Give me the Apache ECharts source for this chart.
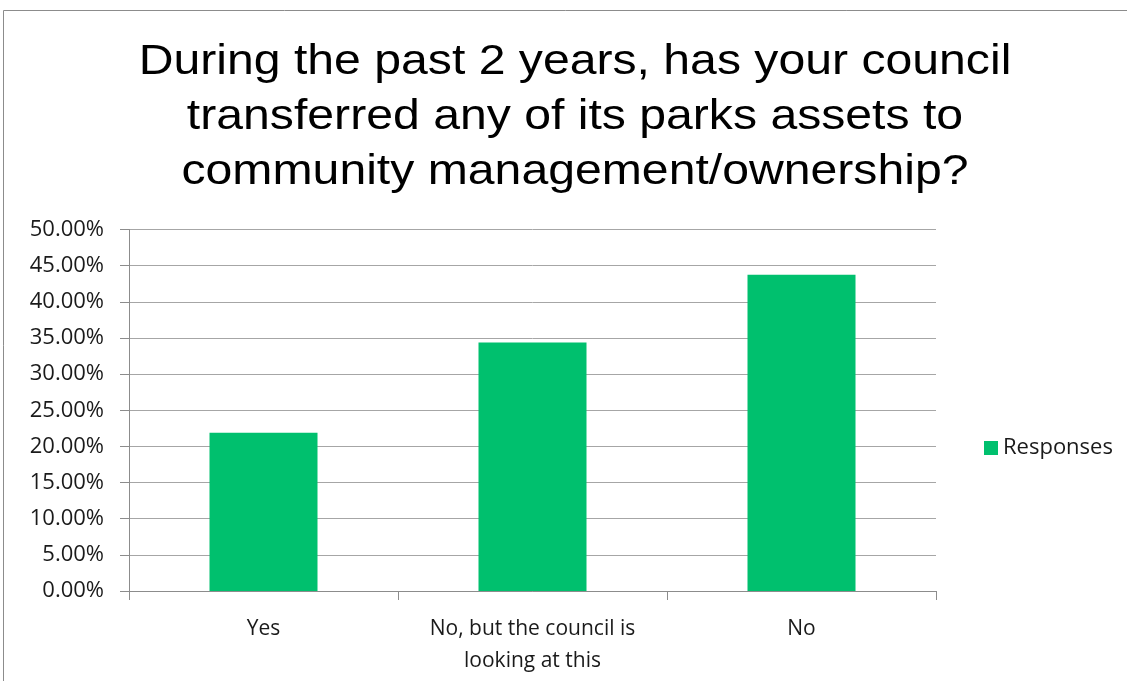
<!DOCTYPE html>
<html>
<head>
<meta charset="utf-8">
<script src="https://cdn.jsdelivr.net/npm/echarts@6/dist/echarts.min.js"></script>
<style>
  html, body { margin: 0; padding: 0; background: #fff; }
  #chart { width: 1127px; height: 681px; }
</style>
</head>
<body>
<div id="chart"></div>
<script>
// Survey answers and their share of responses (percent)
const categories = ['Yes', 'No, but the council is\nlooking at this', 'No'];
const responses = [21.875, 34.375, 43.75];
const seriesName = 'Responses';
const titleText = 'During the past 2 years, has your council\ntransferred any of its parks assets to\ncommunity management/ownership?';

const chart = echarts.init(document.getElementById('chart'));
const axisGray = '#8c8c8c';
const labelFont = '"Open Sans", Lato, sans-serif';
const textColor = '#1a1a1a';

chart.setOption({
  backgroundColor: '#fff',
  animation: false,
  legend: {
    data: [seriesName],
    left: 979,
    top: 432,
    itemWidth: 14,
    itemHeight: 14,
    itemGap: 8,
    icon: 'rect',
    textStyle: { fontFamily: labelFont, fontSize: 22, color: textColor }
  },
  grid: { left: 129, right: 191, top: 229.5, bottom: 90, containLabel: false },
  xAxis: {
    type: 'category',
    data: categories,
    axisLine: { lineStyle: { color: axisGray, width: 1 } },
    axisTick: { show: true, length: 9, lineStyle: { color: axisGray } },
    axisLabel: {
      interval: 0,
      hideOverlap: false,
      fontFamily: labelFont, fontSize: 21, color: textColor,
      margin: 22, lineHeight: 32
    }
  },
  yAxis: {
    type: 'value',
    min: 0, max: 50, interval: 5,
    axisLine: { show: true, lineStyle: { color: axisGray, width: 1 } },
    axisTick: { show: true, length: 9, lineStyle: { color: axisGray } },
    splitLine: { lineStyle: { color: '#a6a6a6', width: 1 } },
    axisLabel: {
      fontFamily: labelFont, fontSize: 22, color: textColor, margin: 25,
      formatter: v => v.toFixed(2) + '%'
    }
  },
  series: [{
    name: seriesName,
    type: 'bar',
    data: responses,
    barWidth: 108,
    itemStyle: { color: '#00c06e' }
  }],
  graphic: [
    // chart frame: top and left edges
    { type: 'line', shape: { x1: 3.5, y1: 10.5, x2: 1127, y2: 10.5 }, style: { stroke: '#8c8c8c', lineWidth: 1 } },
    { type: 'line', shape: { x1: 3.5, y1: 10.5, x2: 3.5, y2: 681 }, style: { stroke: '#8c8c8c', lineWidth: 1 } },
    // three-line heading, slightly widened
    {
      type: 'group',
      x: 575,
      y: 35,
      scaleX: 1.12,
      children: [{
        type: 'text',
        x: 0,
        y: 0,
        style: {
          text: titleText,
          font: '43px "Liberation Sans", Arial, sans-serif',
          fill: '#000',
          textAlign: 'center',
          textVerticalAlign: 'top',
          lineHeight: 55
        }
      }]
    }
  ]
});
</script>
</body>
</html>
